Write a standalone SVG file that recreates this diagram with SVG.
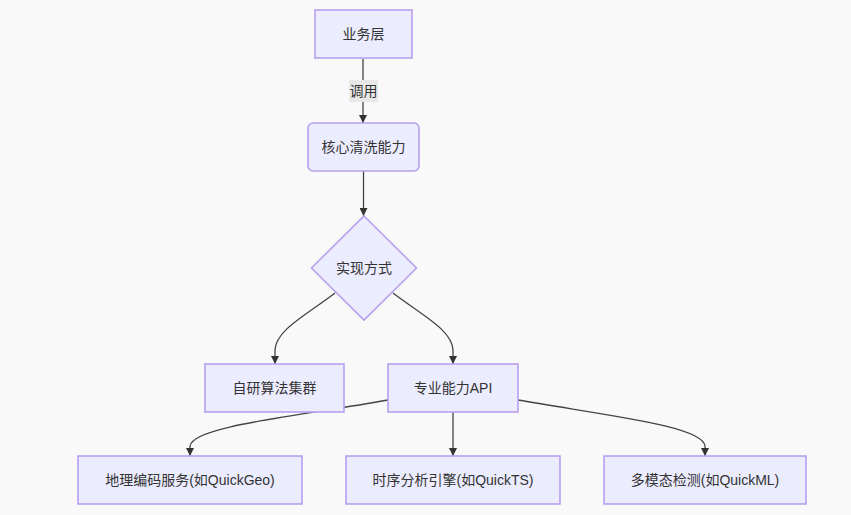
<svg xmlns="http://www.w3.org/2000/svg" width="851" height="515" viewBox="0 0 851 515">
<style>
.node rect,.node polygon{fill:#ECECFF;stroke:#b8a0ec;stroke-width:1.6;}
text{font-family:"Liberation Sans","Noto Sans CJK SC",sans-serif;font-size:14px;fill:#333;text-anchor:middle;dominant-baseline:central;}
.edge{fill:none;stroke:#444;stroke-width:1.3;marker-end:url(#arrow);}
</style>
<defs>
<marker id="arrow" viewBox="0 0 10 10" refX="10" refY="5" markerWidth="8" markerHeight="8" markerUnits="userSpaceOnUse" orient="auto">
<path d="M0,0 L10,5 L0,10 z" fill="#333"/>
</marker>
</defs>
<rect width="851" height="515" fill="#f9f9f9"/>
<g id="connectors">
<path class="edge" d="M363,59 L363,123"/>
<path class="edge" d="M363.5,171 L363.5,216"/>
<path class="edge" d="M335,293 C305,316 276,330 275,350 L275,364"/>
<path class="edge" d="M393,293 C423,316 452,330 453,350 L453,364"/>
<path class="edge" d="M388,400 C300,416 192,426 190,446 L190,456"/>
<path class="edge" d="M453,412 L453,456"/>
<path class="edge" d="M518,400 C610,416 703,426 705,446 L705,456"/>
<g id="label-diaoyong">
<rect x="349" y="80" width="29" height="22" fill="#e8e8e8"/>
<text x="363.5" y="91">调用</text>
</g>
</g>
<g id="n-yewu" class="node">
<rect x="315" y="10" width="97" height="48"/>
<text x="363.5" y="34">业务层</text>
</g>
<g id="n-hexin" class="node">
<rect x="308" y="123" width="111" height="48" rx="5" ry="5"/>
<text x="363.5" y="147">核心清洗能力</text>
</g>
<g id="n-shixian" class="node">
<polygon points="364,216 416.5,268 364,320 311.5,268"/>
<text x="364" y="268">实现方式</text>
</g>
<g id="n-ziyan" class="node">
<rect x="205" y="364" width="139" height="48"/>
<text x="274.5" y="388">自研算法集群</text>
</g>
<g id="n-zhuanye" class="node">
<rect x="388" y="364" width="130" height="48"/>
<text x="453" y="388">专业能力API</text>
</g>
<g id="n-dili" class="node">
<rect x="78" y="456" width="224" height="48"/>
<text x="190" y="480">地理编码服务(如QuickGeo)</text>
</g>
<g id="n-shixu" class="node">
<rect x="346" y="456" width="214" height="48"/>
<text x="453" y="480">时序分析引擎(如QuickTS)</text>
</g>
<g id="n-duomotai" class="node">
<rect x="604" y="456" width="202" height="48"/>
<text x="705" y="480">多模态检测(如QuickML)</text>
</g>
</svg>
